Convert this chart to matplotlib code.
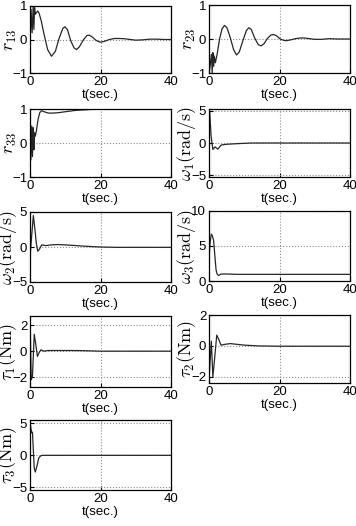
import matplotlib
matplotlib.use("Agg")
import matplotlib.pyplot as plt

plt.rcParams['font.family'] = ['Liberation Sans', 'DejaVu Sans']
plt.rcParams['mathtext.fontset'] = 'cm'

# r13
t_r13 = [0, 0.3, 0.6, 0.9, 1.1, 1.3, 1.5, 1.8, 2.2, 2.6, 3.2, 4.0, 5.0, 6.1, 7.2, 8.3,
         9.3, 9.9, 10.6, 11.6, 12.5, 13.2, 14.0, 15.2, 16.2, 16.8, 17.6, 18.8, 19.9,
         21, 22.5, 24, 25.5, 27, 28.5, 30, 32, 34, 36, 38, 40]
r13 = [-0.2, 0.9, 0.2, 1.0, 0.3, 0.95, 0.75, 0.8, 0.85, 0.78, 0.55, 0.15, -0.3, -0.5,
       -0.35, 0.05, 0.33, 0.38, 0.3, -0.05, -0.25, -0.3, -0.22, 0.0, 0.12, 0.13, 0.08,
       -0.03, -0.08, -0.06, 0.0, 0.03, 0.03, 0.02, 0.0, -0.02, -0.01, 0.01, 0.01, 0.0, 0.0]

# r23
t_r23 = [0, 0.3, 0.7, 0.9, 1.1, 1.3, 1.5, 1.8, 2.3, 3.0, 3.7, 4.4, 5.1, 6.0, 7.0, 7.8,
         8.6, 9.6, 10.6, 11.3, 12.0, 13.0, 14.0, 14.8, 15.6, 16.6, 17.6, 18.3, 19.1,
         20.2, 21.2, 21.9, 23, 24.5, 26, 27, 28.5, 30, 32, 34, 36, 38, 40]
r23 = [-1.0, -0.8, -0.45, -1.0, -0.4, -0.8, -0.5, -0.7, -0.45, 0.0, 0.3, 0.4, 0.33,
       0.05, -0.32, -0.47, -0.38, -0.05, 0.25, 0.33, 0.28, 0.02, -0.17, -0.2, -0.14,
       0.02, 0.12, 0.13, 0.1, 0.0, -0.04, -0.05, -0.03, 0.01, 0.03, 0.03, 0.01, -0.01,
       -0.01, 0.01, 0.0, 0.0, 0.0]

# r33
t_r33 = [0, 0.25, 0.5, 0.7, 0.9, 1.1, 1.3, 1.5, 1.8, 2.3, 2.8, 3.3, 4.0, 5.2, 6.5, 8,
         10, 13, 16, 20, 25, 30, 35, 40]
r33 = [0.9, -0.5, 0.5, -0.4, 0.45, -0.2, 0.3, 0.2, 0.35, 0.7, 0.9, 0.95, 0.92, 0.88,
       0.88, 0.89, 0.92, 0.96, 0.98, 1.0, 1.0, 1.0, 1.0, 1.0]

# omega1
t_w1 = [0, 0.2, 0.6, 1.1, 1.7, 2.5, 3.5, 5.0, 8.0, 12, 16, 20, 25, 30, 35, 40]
w1 = [5.0, 4.8, 1.0, -1.0, -0.6, -0.95, -0.3, -0.2, -0.1, 0.0, 0.0, 0.0, 0.0, 0.0, 0.0, 0.0]

# omega2
t_w2 = [0, 0.3, 0.95, 1.4, 1.8, 2.2, 2.7, 3.3, 4.5, 6, 8, 10, 13, 16, 20, 25, 30, 35, 40]
w2 = [-1.7, 0.5, 4.5, 2.5, 0.5, -0.6, -0.3, 0.3, 0.2, 0.3, 0.35, 0.3, 0.2, 0.1, 0.0,
      -0.05, -0.05, -0.05, -0.05]

# omega3
t_w3 = [0, 0.3, 0.66, 1.0, 1.3, 1.6, 2.0, 2.3, 2.7, 3.5, 5, 8, 12, 20, 30, 40]
w3 = [3.0, 5.5, 6.7, 6.4, 5.8, 4.0, 1.6, 1.0, 0.8, 1.0, 1.0, 0.95, 0.95, 0.95, 0.95, 0.95]

# tau1
t_t1 = [0, 0.35, 0.7, 1.2, 1.6, 2.1, 2.6, 3.1, 4.0, 5.0, 8, 12, 15, 20, 25, 30, 35, 40]
t1 = [2.6, -2.2, -1.9, 1.3, 0.6, -0.4, -0.1, 0.1, 0.0, 0.05, 0.05, 0.05, 0.04, 0.0,
      0.0, 0.0, 0.0, 0.0]

# tau2
t_t2 = [0, 0.3, 0.66, 1.1, 1.6, 2.2, 2.8, 3.4, 4.5, 6, 8, 10, 14, 20, 25, 30, 35, 40]
t2 = [-2.2, -1.0, 0.3, -2.0, -0.8, 0.7, 0.4, 0.05, 0.1, 0.15, 0.1, 0.05, 0.0, -0.02,
      -0.02, -0.02, -0.02, -0.02]

# tau3
t_t3 = [0, 0.25, 0.5, 0.7, 1.2, 1.5, 2.0, 2.5, 3.0, 3.5, 5, 10, 20, 30, 40]
t3 = [5.2, 4.2, 3.5, 3.6, -2.0, -2.6, -1.6, -0.4, -0.1, 0.0, 0.0, 0.0, 0.0, 0.0, 0.0]

panels = [
    (t_r13, r13, r'$r_{13}$', (-1, 1), [-1, 0, 1]),
    (t_r23, r23, r'$r_{23}$', (-1, 1), [-1, 0, 1]),
    (t_r33, r33, r'$r_{33}$', (-1, 1), [-1, 0, 1]),
    (t_w1, w1, r'$\omega_1(\mathrm{rad/s})$', (-5.25, 5.25), [-5, 0, 5]),
    (t_w2, w2, r'$\omega_2(\mathrm{rad/s})$', (-5, 5), [-5, 0, 5]),
    (t_w3, w3, r'$\omega_3(\mathrm{rad/s})$', (0, 10), [0, 5, 10]),
    (t_t1, t1, r'$\tau_1(\mathrm{Nm})$', (-2.75, 2.7), [-2, 0, 2]),
    (t_t2, t2, r'$\tau_2(\mathrm{Nm})$', (-2.4, 2), [-2, 0, 2]),
    (t_t3, t3, r'$\tau_3(\mathrm{Nm})$', (-5.4, 5.5), [-5, 0, 5]),
]

# axes boxes in pixels: left, top, right, bottom
W, H = 356, 526
boxes = [
    (30, 6, 171, 73), (209, 5, 350, 73),
    (30, 109, 171, 177), (209, 109, 350, 177),
    (30, 212, 171, 282), (209, 211, 350, 281),
    (30, 316, 171, 387), (209, 315, 350, 383),
    (30, 420, 171, 490),
]

fig = plt.figure(figsize=(W / 100, H / 100), dpi=100)

for (tt, yy, lab, ylim, yt), (l, tp, r, b) in zip(panels, boxes):
    ax = fig.add_axes([l / W, 1 - b / H, (r - l) / W, (b - tp) / H])
    ax.plot(tt, yy, color='0.15', linewidth=0.9)
    ax.set_xlim(0, 40)
    ax.set_ylim(*ylim)
    ax.set_xticks([0, 20, 40])
    ax.set_yticks(yt)
    ax.grid(True, linestyle=':', color='0.55', linewidth=0.8)
    ax.tick_params(direction='in', length=3, labelsize=9.5, pad=2)
    ax.set_xlabel('t(sec.)', fontsize=9.5, labelpad=1)
    ax.set_ylabel(lab, fontsize=13)
    # right edge of the y label sits ~11 px left of the axes
    ax.yaxis.set_label_coords(-11 / (r - l), 0.5)
    for s in ax.spines.values():
        s.set_linewidth(0.9)

fig.savefig('out.png', dpi=100)
